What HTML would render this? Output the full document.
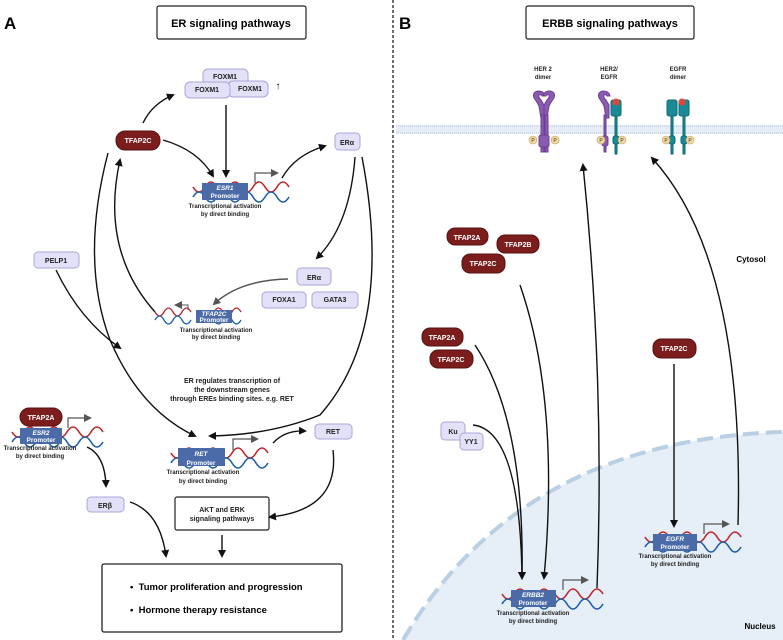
<!DOCTYPE html>
<html><head><meta charset="utf-8"><style>
body{margin:0;background:#fff}
svg{display:block;font-family:"Liberation Sans",sans-serif}
.lb{fill:#e3e1f7;stroke:#a9a6d8;stroke-width:1}
.dr{fill:#7b1d1d;stroke:#5a1010;stroke-width:1}
.t{font-size:7px;font-weight:bold;fill:#222;text-anchor:middle}
.w{font-size:7px;font-weight:bold;fill:#fff;text-anchor:middle}
.a{fill:none;stroke:#111;stroke-width:1.4;marker-end:url(#ah)}
.g{fill:none;stroke:#555;stroke-width:1.4;marker-end:url(#ahg)}
.pb{fill:#4a6aa8}
.pt{font-size:6.5px;fill:#fff;text-anchor:middle;font-weight:bold}
.s{font-size:6px;font-weight:bold;fill:#222;text-anchor:middle}
</style></head><body>
<svg width="783" height="640" viewBox="0 0 783 640">
<defs>
<marker id="ah" markerWidth="8" markerHeight="8" refX="6" refY="4" orient="auto" markerUnits="userSpaceOnUse"><path d="M0,0 L8,4 L0,8 z" fill="#111"/></marker>
<marker id="ahg" markerWidth="8" markerHeight="8" refX="6" refY="4" orient="auto" markerUnits="userSpaceOnUse"><path d="M0,0 L8,4 L0,8 z" fill="#555"/></marker>
<g id="dna"><path d="M0,-5 q6,10 12,0 t12,0 t12,0 t12,0" stroke="#c0262b" stroke-width="1.6" fill="none"/><path d="M0,5 q6,-10 12,0 t12,0 t12,0 t12,0" stroke="#1f5fa8" stroke-width="1.6" fill="none"/></g>
<g id="dnas"><path d="M0,-4 q4.5,8 9,0 t9,0 t9,0 t9,0" stroke="#c0262b" stroke-width="1.3" fill="none"/><path d="M0,4 q4.5,-8 9,0 t9,0 t9,0 t9,0" stroke="#1f5fa8" stroke-width="1.3" fill="none"/></g>
</defs>
<path d="M403 640 Q520 440 783 432 L783 640 Z" fill="#e6eef7"/>
<path d="M403 640 Q520 440 783 432" fill="none" stroke="#b9cfe4" stroke-width="4" stroke-dasharray="16 7"/>
<line x1="393" y1="0" x2="393" y2="640" stroke="#222" stroke-width="1.3" stroke-dasharray="3 2"/>
<text x="4" y="29" font-size="17" font-weight="bold">A</text>
<text x="399" y="29" font-size="17" font-weight="bold">B</text>
<rect x="157" y="6" width="149" height="33" rx="2" fill="#fff" stroke="#222" stroke-width="1.2"/>
<text x="231" y="27" font-size="11" font-weight="bold" text-anchor="middle">ER signaling pathways</text>
<rect x="526" y="6" width="168" height="33" rx="2" fill="#fff" stroke="#222" stroke-width="1.2"/>
<text x="610" y="27" font-size="11" font-weight="bold" text-anchor="middle">ERBB signaling pathways</text>
<rect x="396" y="125" width="387" height="9" fill="#e6edf6"/>
<line x1="396" y1="126" x2="783" y2="126" stroke="#b4c8e0" stroke-dasharray="1 1"/>
<line x1="396" y1="133" x2="783" y2="133" stroke="#b4c8e0" stroke-dasharray="1 1"/>
<text x="543" y="71" class="s">HER 2</text><text x="543" y="79" class="s">dimer</text>
<text x="609" y="71" class="s">HER2/</text><text x="609" y="79" class="s">EGFR</text>
<text x="678" y="71" class="s">EGFR</text><text x="678" y="79" class="s">dimer</text>
<g fill="#8a5bb0" stroke="#6c3f92">
<path d="M541 118 l-2 -12 q-2 -4 -5 -8 q-2 -6 4 -7 q6 0 7 5 l-3 0 q-1 -2 -3 -1 q-1 2 2 5 l3 5 l0 13 z"/>
<path d="M547 118 l2 -12 q2 -4 5 -8 q2 -6 -4 -7 q-6 0 -7 5 l3 0 q1 -2 3 -1 q1 2 -2 5 l-3 5 l0 13 z"/>
<rect x="541" y="115" width="3" height="37"/><rect x="545" y="115" width="3" height="37"/>
<rect x="539" y="135" width="10" height="12" rx="2"/>
<path d="M606 118 l-2 -12 q-2 -4 -5 -8 q-2 -6 4 -7 q6 0 7 5 l-3 0 q-1 -2 -3 -1 q-1 2 2 5 l3 5 l0 13 z"/>
<rect x="604" y="115" width="2" height="37"/><rect x="602" y="136" width="6" height="10" rx="2"/>
</g>
<g fill="#1a8a96" stroke="#0f6c75">
<rect x="611" y="100" width="10" height="16" rx="2"/><rect x="615" y="116" width="2" height="38"/><rect x="613" y="136" width="6" height="8" rx="2"/>
<rect x="667" y="100" width="10" height="16" rx="2"/><rect x="679" y="100" width="10" height="16" rx="2"/>
<rect x="671" y="116" width="2" height="38"/><rect x="683" y="116" width="2" height="38"/>
<rect x="669" y="136" width="6" height="8" rx="2"/><rect x="681" y="136" width="6" height="8" rx="2"/>
</g>
<circle cx="616" cy="102" r="3.5" fill="#e0473c"/><circle cx="682" cy="102" r="3.5" fill="#e0473c"/>
<g fill="#f1d9a6" stroke="#c49a4a" stroke-width=".6">
<circle cx="533" cy="140" r="4"/><circle cx="555" cy="140" r="4"/><circle cx="601" cy="140" r="4"/><circle cx="622" cy="140" r="4"/><circle cx="666" cy="140" r="4"/><circle cx="690" cy="140" r="4"/>
</g>
<g font-size="5" text-anchor="middle" fill="#333"><text x="533" y="142">P</text><text x="555" y="142">P</text><text x="601" y="142">P</text><text x="622" y="142">P</text><text x="666" y="142">P</text><text x="690" y="142">P</text></g>

<rect class="lb" x="203" y="69" width="45" height="16" rx="5"/><text class="t" x="225" y="79">FOXM1</text>
<rect class="lb" x="228" y="81" width="40" height="16" rx="5"/><text class="t" x="250" y="91">FOXM1</text>
<rect class="lb" x="185" y="82" width="45" height="16" rx="5"/><text class="t" x="207" y="92">FOXM1</text>
<text x="278" y="89" font-size="10" font-weight="bold" text-anchor="middle">↑</text>
<rect class="dr" x="116" y="131" width="44" height="19" rx="9"/><text class="w" x="138" y="143">TFAP2C</text>
<rect class="lb" x="335" y="133" width="25" height="17" rx="4"/><text class="t" x="347" y="145" font-size="8">ERα</text>
<rect class="lb" x="297" y="268" width="34" height="17" rx="4"/><text class="t" x="314" y="280" font-size="8">ERα</text>
<rect class="lb" x="262" y="292" width="44" height="16" rx="4"/><text class="t" x="284" y="302">FOXA1</text>
<rect class="lb" x="312" y="292" width="46" height="16" rx="4"/><text class="t" x="335" y="302">GATA3</text>
<rect class="lb" x="34" y="252" width="45" height="16" rx="4"/><text class="t" x="56" y="263">PELP1</text>
<rect class="lb" x="315" y="424" width="37" height="15" rx="4"/><text class="t" x="333" y="434">RET</text>
<rect class="lb" x="87" y="497" width="37" height="15" rx="4"/><text class="t" x="105" y="508" font-size="8">ERβ</text>
<rect class="dr" x="20" y="408" width="42" height="18" rx="9"/><text class="w" x="41" y="420">TFAP2A</text>

<use href="#dna" x="193" y="192"/><use href="#dna" x="241" y="192"/>
<rect class="pb" x="202" y="183" width="46" height="17"/>
<text class="pt" x="225" y="190" font-style="italic">ESR1</text><text class="pt" x="225" y="198">Promoter</text>
<path d="M255 183 v-10 h22" fill="none" stroke="#555" stroke-width="1.2" marker-end="url(#ahg)"/>
<text class="s" x="225" y="208">Transcriptional activation</text><text class="s" x="225" y="216">by direct binding</text>
<use href="#dnas" x="155" y="316"/><use href="#dnas" x="205" y="316"/>
<rect class="pb" x="196" y="310" width="36" height="13"/>
<text class="pt" x="214" y="316" font-size="5" font-style="italic">TFAP2C</text><text class="pt" x="214" y="322" font-size="5">Promoter</text>
<path d="M188 310 v-5 h-12" fill="none" stroke="#555" stroke-width="1" marker-end="url(#ahg)"/>
<text class="s" x="216" y="332" font-size="5">Transcriptional activation</text><text class="s" x="216" y="339" font-size="5">by direct binding</text>
<use href="#dna" x="12" y="437"/><use href="#dna" x="55" y="437"/>
<rect class="pb" x="20" y="428" width="42" height="16"/>
<text class="pt" x="41" y="435" font-style="italic">ESR2</text><text class="pt" x="41" y="442">Promoter</text>
<path d="M68 428 v-10 h22" fill="none" stroke="#555" stroke-width="1.2" marker-end="url(#ahg)"/>
<text class="s" x="40" y="450">Transcriptional activation</text><text class="s" x="40" y="458">by direct binding</text>
<use href="#dna" x="171" y="458"/><use href="#dna" x="220" y="458"/>
<rect class="pb" x="178" y="448" width="47" height="18"/>
<text class="pt" x="201" y="456" font-style="italic">RET</text><text class="pt" x="201" y="465">Promoter</text>
<path d="M233 450 v-11 h24" fill="none" stroke="#555" stroke-width="1.2" marker-end="url(#ahg)"/>
<text class="s" x="203" y="474">Transcriptional activation</text><text class="s" x="203" y="483">by direct binding</text>
<text class="t" x="232" y="383">ER regulates transcription of</text>
<text class="t" x="232" y="392">the downstream genes</text>
<text class="t" x="232" y="401">through  EREs binding sites. e.g. RET</text>
<rect x="175" y="497" width="94" height="33" rx="2" fill="#fff" stroke="#222" stroke-width="1.2"/>
<text class="t" x="222" y="512" font-size="7.5">AKT and ERK</text><text class="t" x="222" y="521" font-size="7.5">signaling pathways</text>
<rect x="102" y="564" width="240" height="68" rx="2" fill="#fff" stroke="#222" stroke-width="1.3"/>
<text x="130" y="590" font-size="9.5" font-weight="bold">•&#160;&#160;Tumor proliferation and progression</text>
<text x="130" y="613" font-size="9.5" font-weight="bold">•&#160;&#160;Hormone therapy resistance</text>

<path class="a" d="M143 123 Q152 104 173 95"/>
<path class="a" d="M163 140 Q198 150 213 176"/>
<path class="a" d="M226 105 V176"/>
<path class="a" d="M282 178 Q295 155 325 146"/>
<path class="a" d="M355 157 Q350 225 317 258"/>
<path class="a" d="M362 157 Q395 330 320 415 Q270 435 210 436"/>
<path class="g" d="M288 279 Q240 280 214 304"/>
<path class="a" d="M155 312 Q100 250 120 160"/>
<path class="a" d="M108 153 Q80 260 110 340 Q140 410 195 436"/>
<path class="a" d="M56 270 Q80 320 120 348"/>
<path class="a" d="M273 443 Q285 430 305 431"/>
<path class="a" d="M333 450 Q340 510 270 517"/>
<path class="a" d="M87 447 Q105 455 106 486"/>
<path class="a" d="M130 502 Q160 512 166 556"/>
<path class="a" d="M222 535 V556"/>

<rect class="dr" x="447" y="228" width="41" height="17" rx="8"/><text class="w" x="467" y="240">TFAP2A</text>
<rect class="dr" x="497" y="235" width="42" height="18" rx="8"/><text class="w" x="518" y="247">TFAP2B</text>
<rect class="dr" x="462" y="254" width="43" height="19" rx="8"/><text class="w" x="483" y="266">TFAP2C</text>
<text x="751" y="262" font-size="8" font-weight="bold" text-anchor="middle">Cytosol</text>
<rect class="dr" x="422" y="328" width="41" height="18" rx="8"/><text class="w" x="442" y="340">TFAP2A</text>
<rect class="dr" x="430" y="350" width="43" height="18" rx="8"/><text class="w" x="451" y="362">TFAP2C</text>
<rect class="lb" x="441" y="422" width="24" height="18" rx="4"/><text class="t" x="453" y="434">Ku</text>
<rect class="lb" x="460" y="433" width="23" height="17" rx="4"/><text class="t" x="471" y="444">YY1</text>
<rect class="dr" x="653" y="339" width="43" height="19" rx="8"/><text class="w" x="674" y="351">TFAP2C</text>
<text x="760" y="629" font-size="8" font-weight="bold" text-anchor="middle">Nucleus</text>
<use href="#dna" x="502" y="599"/><use href="#dna" x="555" y="599"/>
<rect class="pb" x="511" y="590" width="45" height="17"/>
<text class="pt" x="533" y="597" font-style="italic">ERBB2</text><text class="pt" x="533" y="605">Promoter</text>
<path d="M563 590 v-10 h24" fill="none" stroke="#555" stroke-width="1.2" marker-end="url(#ahg)"/>
<text class="s" x="533" y="615">Transcriptional activation</text><text class="s" x="533" y="623">by direct binding</text>
<use href="#dna" x="645" y="542"/><use href="#dna" x="693" y="542"/>
<rect class="pb" x="653" y="534" width="44" height="17"/>
<text class="pt" x="675" y="541" font-style="italic">EGFR</text><text class="pt" x="675" y="549">Promoter</text>
<path d="M704 534 v-10 h24" fill="none" stroke="#555" stroke-width="1.2" marker-end="url(#ahg)"/>
<text class="s" x="675" y="558">Transcriptional activation</text><text class="s" x="675" y="566">by direct binding</text>
<path class="a" d="M520 285 Q560 400 544 578"/>
<path class="a" d="M475 345 Q525 420 522 578"/>
<path class="a" d="M473 425 Q520 430 522 578"/>
<path class="a" d="M597 588 Q605 380 583 165"/>
<path class="a" d="M738 525 Q745 260 652 158"/>
<path class="a" d="M674 364 V526"/>
</svg>
</body></html>
